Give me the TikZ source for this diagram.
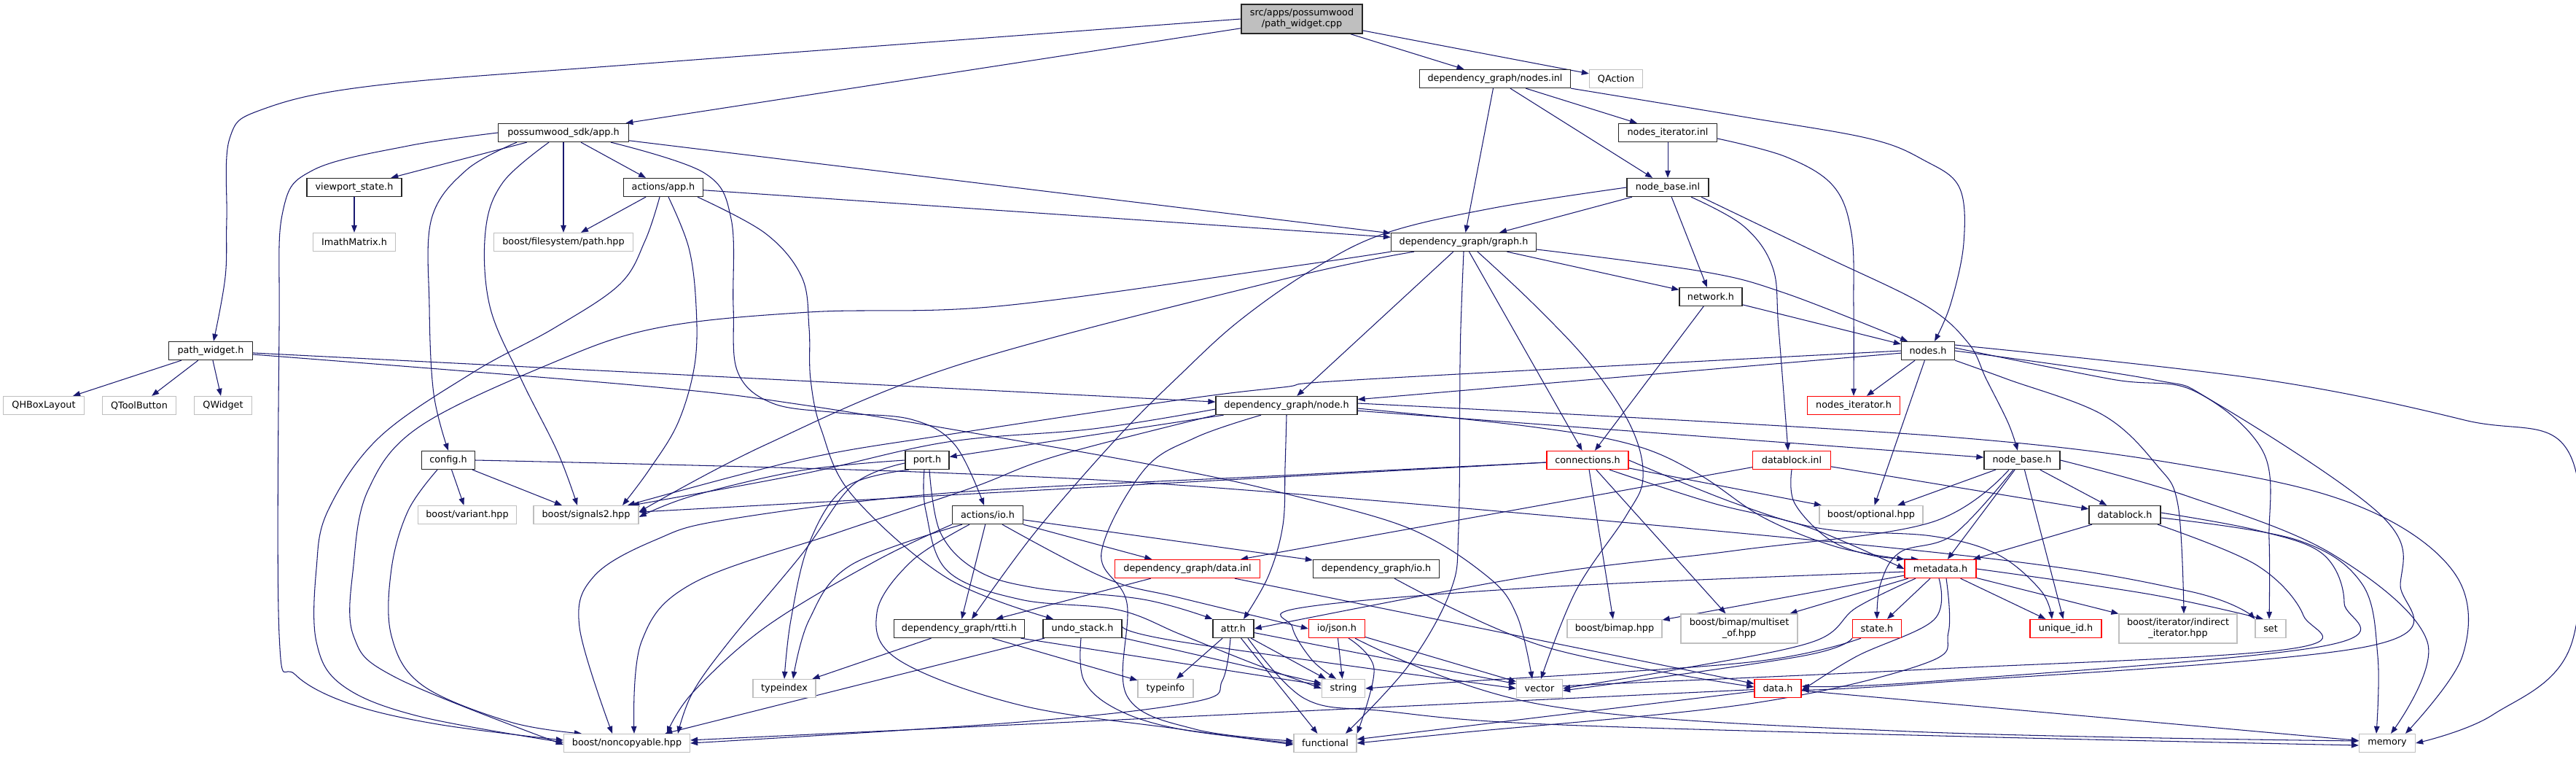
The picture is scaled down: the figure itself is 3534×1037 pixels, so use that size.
\documentclass[tikz,border=0pt]{standalone}
\usepackage{fontspec}
\setmainfont{DejaVu Sans}
\usetikzlibrary{arrows.meta}
\pgfdeclarelayer{back}
\pgfdeclarelayer{bg}
\pgfsetlayers{back,bg,main}
\definecolor{edgec}{HTML}{191970}
\definecolor{extgray}{HTML}{BFBFBF}
\definecolor{rootfill}{HTML}{BFBFBF}
\newcommand{\nfont}{\fontsize{12.8pt}{15pt}\selectfont}
\newcommand{\edgecurve}[1]{\draw[e] plot[smooth,tension=0.6] coordinates {#1};}
\newcommand{\edgestraight}[2]{\draw[e] (#1) -- (#2);}
\tikzset{
  doc/.style={draw=black!85, line width=1.3pt, fill=white, minimum height=25pt, inner xsep=2pt, inner ysep=0pt, font=\nfont, text=black},
  ext/.style={doc, draw=extgray},
  trunc/.style={doc, draw=red},
  e/.style={draw=edgec, line width=1.05pt, -{Triangle[length=10pt,width=7.5pt]}}
}
\begin{document}
\begin{tikzpicture}[x=1pt,y=-1pt]
\useasboundingbox (0,0) rectangle (3534,1037);
\begin{pgfonlayer}{back}
\fill[white] (0,0) rectangle (3534,1037);
\end{pgfonlayer}
% nodes
\node[doc, fill=rootfill, minimum width=166pt, minimum height=40pt, align=center] (root) at (1786,26) {src/apps/possumwood\\/path\_widget.cpp};
\node[doc, minimum width=207pt] (ninl) at (2051,108) {dependency\_graph/nodes.inl};
\node[ext, minimum width=73pt] (qaction) at (2217,108) {QAction};
\node[doc, minimum width=179pt] (app) at (773,182) {possumwood\_sdk/app.h};
\node[doc, minimum width=135pt] (nitinl) at (2288,182) {nodes\_iterator.inl};
\node[doc, minimum width=130pt] (viewport) at (486,257) {viewport\_state.h};
\node[doc, minimum width=109pt] (aapp) at (910,257) {actions/app.h};
\node[doc, minimum width=112pt] (nbinl) at (2288,257) {node\_base.inl};
\node[ext, minimum width=113pt] (imath) at (486,332) {ImathMatrix.h};
\node[ext, minimum width=191pt] (fs) at (773,332) {boost/filesystem/path.hpp};
\node[doc, minimum width=199pt] (graph) at (2008,332) {dependency\_graph/graph.h};
\node[doc, minimum width=86pt] (network) at (2347,407) {network.h};
\node[doc, minimum width=115pt] (pw) at (289,481) {path\_widget.h};
\node[doc, minimum width=73pt] (nodes) at (2645,481) {nodes.h};
\node[ext, minimum width=111pt] (qhbox) at (60,556) {QHBoxLayout};
\node[ext, minimum width=101pt] (qtool) at (191,556) {QToolButton};
\node[ext, minimum width=79pt] (qwidget) at (306,556) {QWidget};
\node[doc, minimum width=194pt] (node) at (1765,556) {dependency\_graph/node.h};
\node[trunc, minimum width=127pt] (nith) at (2543,556) {nodes\_iterator.h};
\node[doc, minimum width=73pt] (config) at (615,631) {config.h};
\node[doc, minimum width=60pt] (port) at (1272,631) {port.h};
\node[trunc, minimum width=112pt] (conn) at (2178,631) {connections.h};
\node[trunc, minimum width=107pt] (dbinl) at (2458,631) {datablock.inl};
\node[doc, minimum width=104pt] (nbh) at (2774,631) {node\_base.h};
\node[ext, minimum width=135pt] (variant) at (641,706) {boost/variant.hpp};
\node[ext, minimum width=144pt] (sig) at (804,706) {boost/signals2.hpp};
\node[doc, minimum width=97pt] (aio) at (1355,706) {actions/io.h};
\node[ext, minimum width=142pt] (optional) at (2567,706) {boost/optional.hpp};
\node[doc, minimum width=98pt] (dbh) at (2915,706) {datablock.h};
\node[trunc, minimum width=199pt] (datainl) at (1629,780) {dependency\_graph/data.inl};
\node[doc, minimum width=173pt] (dgio) at (1888,780) {dependency\_graph/io.h};
\node[trunc, minimum width=98pt] (metadata) at (2662,780) {metadata.h};
\node[doc, minimum width=179pt] (rtti) at (1316,862) {dependency\_graph/rtti.h};
\node[doc, minimum width=108pt] (undo) at (1485,862) {undo\_stack.h};
\node[doc, minimum width=56pt] (attr) at (1692,862) {attr.h};
\node[trunc, minimum width=77pt] (json) at (1834,862) {io/json.h};
\node[ext, minimum width=130pt] (bimap) at (2215,862) {boost/bimap.hpp};
\node[ext, minimum width=160pt, minimum height=40pt, align=center] (multiset) at (2386,862) {boost/bimap/multiset\\\_of.hpp};
\node[trunc, minimum width=67pt] (state) at (2575,862) {state.h};
\node[trunc, minimum width=98pt] (uid) at (2834,862) {unique\_id.h};
\node[ext, minimum width=162pt, minimum height=40pt, align=center] (indirect) at (2988,862) {boost/iterator/indirect\\\_iterator.hpp};
\node[ext, minimum width=42pt] (set) at (3115,862) {set};
\node[ext, minimum width=86pt] (typeindex) at (1076,944) {typeindex};
\node[ext, minimum width=76pt] (typeinfo) at (1599,944) {typeinfo};
\node[ext, minimum width=59pt] (string) at (1843,944) {string};
\node[ext, minimum width=63pt] (vector) at (2112,944) {vector};
\node[trunc, minimum width=64pt] (data) at (2439,944) {data.h};
\node[ext, minimum width=173pt] (nc) at (860,1019) {boost/noncopyable.hpp};
\node[ext, minimum width=86pt] (functional) at (1818,1019) {functional};
\node[ext, minimum width=77pt] (memory) at (3275,1019) {memory};

\begin{pgfonlayer}{bg}
% ---- straight edges
\edgestraight{root}{ninl}
\edgestraight{root}{qaction}
\edgestraight{root}{app}
\edgestraight{ninl}{graph}
\edgestraight{ninl}{nbinl}
\edgestraight{ninl}{nitinl}
\edgestraight{nitinl}{nbinl}
\edgestraight{nbinl}{graph}
\edgestraight{nbinl}{network}
\edgestraight{app}{viewport}
\edgestraight{app}{aapp}
\edgestraight{app}{fs}
\edgestraight{app}{graph}
\edgestraight{viewport}{imath}
\edgestraight{aapp}{fs}
\edgestraight{aapp}{graph}
\edgestraight{graph}{network}
\edgestraight{graph}{node}
\edgestraight{graph}{conn}
\edgestraight{network}{nodes}
\edgestraight{network}{conn}
\edgestraight{pw}{qhbox}
\edgestraight{pw}{qtool}
\edgestraight{pw}{qwidget}
\edgestraight{pw}{node}
\edgestraight{nodes}{node}
\edgestraight{nodes}{nith}
\edgestraight{nodes}{optional}
\edgestraight{node}{nbh}
\edgestraight{node}{port}
\edgestraight{config}{variant}
\edgestraight{config}{sig}
\edgestraight{aio}{rtti}
\edgestraight{aio}{datainl}
\edgestraight{aio}{dgio}
\edgestraight{conn}{sig}
\edgestraight{conn}{bimap}
\edgestraight{conn}{multiset}
\edgestraight{conn}{optional}
\edgestraight{dbinl}{dbh}
\edgestraight{dbinl}{datainl}
\edgestraight{nbh}{dbh}
\edgestraight{nbh}{optional}
\edgestraight{nbh}{uid}
\edgestraight{nbh}{metadata}
\edgestraight{datainl}{rtti}
\edgestraight{datainl}{data}
\edgestraight{rtti}{typeindex}
\edgestraight{rtti}{typeinfo}
\edgestraight{rtti}{string}
\edgestraight{undo}{nc}
\edgestraight{undo}{string}
\edgestraight{attr}{typeinfo}
\edgestraight{attr}{string}
\edgestraight{attr}{functional}
\edgestraight{attr}{vector}
\edgestraight{json}{string}
\edgestraight{json}{vector}
\edgestraight{metadata}{bimap}
\edgestraight{metadata}{multiset}
\edgestraight{metadata}{state}
\edgestraight{metadata}{uid}
\edgestraight{metadata}{indirect}
\edgestraight{dbh}{metadata}
\edgestraight{data}{functional}
\edgestraight{data}{memory}
\edgestraight{data}{nc}
% ---- curved edges
\edgecurve{(root.west) (900,86) (517,117) (360,150) (315,190) (311,300) (309,380) ([xshift=4pt]pw.north)}
\edgecurve{([xshift=-64pt]app.south) (640,233) (592,300) (589,420) (595,540) (config.north)}
\edgecurve{([xshift=-20pt]app.south) (690,250) (666,317) (672,420) (715,520) (765,620) ([xshift=-12pt]sig.north)}
\edgecurve{([xshift=65pt]app.south) (966,237) (1003,300) (1006,420) (1012,510) (1060,553) (1150,566) (1250,575) (1310,610) ([xshift=-5pt]aio.north)}
\edgecurve{(app.west) (560,200) (430,233) (388,290) (383,450) (383,870) (405,925) (480,965) (600,993) ([yshift=4pt]nc.west)}
\edgecurve{([xshift=-5pt]aapp.south) (885,330) (850,390) (760,450) (650,510) (520,600) (450,700) (434,780) (434,880) (470,940) (574,982) ([yshift=1pt]nc.west)}
\edgecurve{([xshift=7pt]aapp.south) (945,340) (955,420) (953,500) (930,580) (890,645) ([xshift=50pt]sig.north)}
\edgecurve{([xshift=47pt]aapp.south) (1050,320) (1100,380) (1110,450) (1112,520) (1127,590) (1170,680) (1300,793) ([xshift=-40pt]undo.north)}
\edgecurve{(ninl.south east) (2391,160) (2564,190) (2640,220) (2688,257) (2694,333) (2676,417) ([xshift=9pt]nodes.north)}
\edgecurve{([yshift=-8pt]nitinl.east) (2450,215) (2515,255) (2540,320) (2543,420) (nith.north)}
\edgecurve{(nbinl.west) (2050,285) (1900,320) (1800,370) (1700,440) (1620,513) (1533,600) (1420,730) ([xshift=17pt]rtti.north)}
\edgecurve{([xshift=32pt]nbinl.south) (2392,310) (2432,367) (2440,450) ([xshift=-5pt]dbinl.north)}
\edgecurve{([xshift=46pt]nbinl.south) (2500,350) (2640,418) (2700,470) (2725,520) (2755,580) ([xshift=-6pt]nbh.north)}
\edgecurve{([yshift=-10pt]graph.east) (2334,372) (2449,402) ([xshift=-28pt]nodes.north)}
\edgecurve{(graph.south) (2005,420) (2003,500) (2001,724) (1990,810) (1932,913) ([xshift=28pt]functional.north)}
\edgecurve{([xshift=19pt]graph.south) (2104,417) (2182,500) (2238,586) (2254,655) (2231,707) (2162,810) ([xshift=2pt]vector.north)}
\edgecurve{(graph.south west) (1760,367) (1368,420) (1110,428) (900,450) (752,500) (574,586) (505,672) (485,775) (485,872) (545,930) ([yshift=-2pt]nc.west)}
\edgecurve{([xshift=-68pt]graph.south) (1760,383) (1316,500) (1050,610) ([yshift=4pt]sig.east)}
\edgecurve{(nodes.west) (1875,520) (1760,531) (1620,548) (1300,596) (1100,630) ([xshift=57pt]sig.north)}
\edgecurve{(nodes.south east) (2754,520) (2885,569) (2959,638) (2988,693) ([xshift=8pt]indirect.north)}
\edgecurve{([yshift=4pt]nodes.east) (2897,520) (3010,536) (3105,620) (3113,740) ([xshift=-2pt]set.north)}
\edgecurve{(nodes.east) (2951,520) (3039,552) (3267,707) (3293,800) (3250,886) (2640,937) ([yshift=-2pt]data.east)}
\edgecurve{([yshift=8pt]nodes.east) (3102,520) (3381,576) (3526,624) (3529,879) (3420,980) (memory.east)}
\edgecurve{([yshift=3pt]node.east) (2660,598) (3040,645) (3250,700) (3370,790) (3378,900) ([xshift=25pt]memory.north)}
\edgecurve{([yshift=-4pt]node.east) (2100,585) (2240,610) (2330,650) (2420,710) (2520,750) (metadata.north west)}
\edgecurve{(node.south) (1763,640) (1760,720) (1740,790) ([xshift=14pt]attr.north)}
\edgecurve{([xshift=-35pt]node.south) (1640,600) (1569,645) (1511,758) (1546,827) (1546,954) (1640,1000) ([yshift=3pt]functional.west)}
\edgecurve{([yshift=-5pt]node.west) (1500,588) (1300,606) (1100,650) ([xshift=63pt]sig.north)}
\edgecurve{(node.south west) (1450,625) (1330,670) (1150,730) (950,800) (880,880) ([xshift=10pt]nc.north)}
\edgecurve{([xshift=-15pt]config.south) (560,700) (537,780) (537,872) (580,940) (700,990) ([xshift=-62pt]nc.north)}
\edgecurve{(config.east) (1282,648) (1760,676) (2660,758) (3000,810) (set.north west)}
\edgecurve{(port.west) (1100,645) (950,680) ([yshift=-3pt]sig.east)}
\edgecurve{([yshift=-4pt]port.west) (1170,665) (1100,760) (1000,880) (950,950) ([xshift=70pt]nc.north)}
\edgecurve{([xshift=-25pt]port.south) (1160,668) (1110,745) (1085,850) (typeindex.north)}
\edgecurve{([xshift=3pt]port.south) (1290,730) (1340,782) (1420,806) (1569,822) (attr.north west)}
\edgecurve{([xshift=-4pt]port.south) (1270,700) (1300,783) (1400,822) (1533,836) (1620,870) (1720,910) (string.west)}
\edgecurve{([xshift=20pt]aio.south) (1517,793) (1620,820) (json.west)}
\edgecurve{([xshift=-25pt]aio.south) (1250,770) (1203,840) (1233,905) (1400,967) (1620,1000) ([yshift=-2pt]functional.west)}
\edgecurve{(aio.south west) (1200,770) (1050,860) (950,950) ([xshift=55pt]nc.north)}
\edgecurve{([xshift=-35pt]aio.south) (1167,775) (1110,850) ([xshift=12pt]typeindex.north)}
\edgecurve{([yshift=-3pt]conn.west) (1760,652) (1300,676) (1000,712) (900,740) (815,790) (795,860) ([xshift=-20pt]nc.north)}
\edgecurve{([xshift=30pt]conn.south) (2350,690) (2478,722) (metadata.west)}
\edgecurve{(conn.east) (2380,690) (2500,725) (2650,735) (2740,760) (2800,810) ([xshift=-19pt]uid.north)}
\edgecurve{(dbinl.south) (2462,690) (2510,740) (2570,762) ([xshift=-30pt]metadata.north)}
\edgecurve{([xshift=-12pt]nbh.south) (2680,733) (2607,757) (2580,800) (state.north)}
\edgecurve{([xshift=-18pt]nbh.south) (2647,717) (2380,755) (2100,790) (attr.east)}
\edgecurve{(nbh.east) (3000,680) (3200,760) (3330,880) ([xshift=5pt]memory.north)}
\edgecurve{([yshift=3pt]dbh.east) (3096,727) (3187,760) (3216,827) (3187,886) (2640,935) ([yshift=3pt]data.east)}
\edgecurve{([yshift=-4pt]dbh.east) (3150,740) (3240,800) (3262,900) ([xshift=-15pt]memory.north)}
\edgecurve{([xshift=45pt]dbh.south) (3096,775) (3160,844) (3140,890) (2640,918) (2200,938) ([yshift=3pt]vector.east)}
\edgecurve{([xshift=25pt]dgio.south) (2120,887) ([yshift=2pt]data.west)}
\edgecurve{([yshift=4pt]undo.east) (1620,880) (vector.west)}
\edgecurve{([xshift=-2pt]undo.south) (1487,933) (1533,973) (1620,1000) (functional.west)}
\edgecurve{([xshift=-4pt]attr.south) (1677,933) (1640,962) (1400,990) (nc.east)}
\edgecurve{([xshift=20pt]attr.south) (1790,958) (1900,975) (2120,993) (2700,1010) ([yshift=-3pt]memory.west)}
\edgecurve{([xshift=16pt]json.south) (1885,917) (functional.north east)}
\edgecurve{([xshift=25pt]json.south) (2120,967) (2620,1003) ([yshift=3pt]memory.west)}
\edgecurve{([yshift=-4pt]metadata.west) (2120,805) (1787,833) (1773,860) (1800,905) ([xshift=-10pt]string.north)}
\edgecurve{([xshift=-34pt]metadata.south) (2547,833) (2487,880) (2300,918) (vector.east)}
\edgecurve{([xshift=-2pt]metadata.south) (2653,850) (2547,900) ([yshift=-3pt]data.east)}
\edgecurve{([xshift=8pt]metadata.south) (2673,867) (2640,910) (2400,965) (2000,1005) (functional.east)}
\edgecurve{(metadata.east) (2950,815) ([xshift=-10pt]set.north)}
\edgecurve{(state.south west) (2470,900) ([yshift=-3pt]vector.east)}
\edgecurve{([xshift=-22pt]state.south) (2400,908) (2000,935) (string.east)}
\edgecurve{([yshift=-5pt]pw.east) (880,529) (1100,555) (1400,605) (1620,645) (1760,676) (1932,724) (2040,790) (2081,844) ([xshift=-10pt]vector.north)}
\end{pgfonlayer}
\end{tikzpicture}
\end{document}
